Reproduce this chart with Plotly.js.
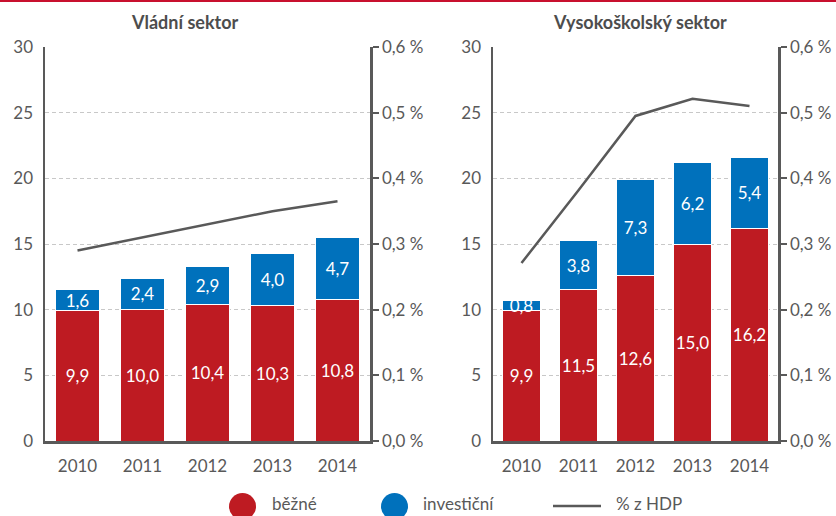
<!DOCTYPE html>
<html><head><meta charset="utf-8">
<script src="https://cdn.plot.ly/plotly-3.0.1.min.js"></script>
<style>html,body{margin:0;padding:0;background:#fff}#chart{width:836px;height:516px}</style>
</head><body><div id="chart"></div>
<script>
const years = ['2010','2011','2012','2013','2014'];
const vladniBezne = [9.9, 10.0, 10.4, 10.3, 10.8];
const vladniInvest = [1.6, 2.4, 2.9, 4.0, 4.7];
const vladniHDP = [0.29, 0.31, 0.33, 0.35, 0.365];
const vsBezne = [9.9, 11.5, 12.6, 15.0, 16.2];
const vsInvest = [0.8, 3.8, 7.3, 6.2, 5.4];
const vsHDP = [0.271, 0.382, 0.495, 0.521, 0.51];
const titles = ['Vládní sektor', 'Vysokoškolský sektor'];
const legendLabels = ['běžné', 'investiční', '% z HDP'];

const W = 836, H = 516;
const px = x => x / W, py = y => 1 - y / H;
const RED = '#BE1B22', BLUE = '#0071BC', GRAY = '#595959';
const FONT = 'Lato, "Open Sans", sans-serif';

function bar(y, color, xa, ya, name) {
  return {type:'bar', x: years, y: y, xaxis: xa, yaxis: ya, name: name, showlegend:false,
    marker:{color: color, line:{color:'#fff', width:1}},
    texttemplate:'%{y:.1f}', textposition:'inside', insidetextanchor:'middle', textangle:0,
    textfont:{color:'#fff', size:17, family: FONT}, hoverinfo:'skip'};
}
function line(y, xa, ya) {
  return {type:'scatter', mode:'lines', x: years, y: y, xaxis: xa, yaxis: ya, showlegend:false,
    line:{color: GRAY, width: 2.5}, hoverinfo:'skip'};
}
const data = [
  bar(vladniBezne, RED, 'x', 'y', legendLabels[0]),
  bar(vladniInvest, BLUE, 'x', 'y', legendLabels[1]),
  line(vladniHDP, 'x', 'y2'),
  bar(vsBezne, RED, 'x2', 'y3', legendLabels[0]),
  bar(vsInvest, BLUE, 'x2', 'y3', legendLabels[1]),
  line(vsHDP, 'x2', 'y4')
];
const ydom = [py(441), py(47)];
const xAx = dom => ({domain: dom, type:'category', showline:true, linecolor:GRAY, linewidth:2.5,
  ticks:'', showgrid:false, tickfont:{size:17, color:GRAY, family:FONT}, ticklabelstandoff:8, fixedrange:true});
const yAx = (anchor) => ({domain: ydom, anchor: anchor, range:[0,30], dtick:5, showline:true, linecolor:GRAY,
  linewidth:2.5, ticks:'', showgrid:true, gridcolor:'#c8c8c8', griddash:'4px,3px', gridwidth:1,
  zeroline:false, tickfont:{size:17, color:GRAY, family:FONT}, ticklabelstandoff:6});
const y2Ax = (ov, anchor) => ({overlaying: ov, anchor: anchor, side:'right', range:[0,0.6], dtick:0.1,
  tickformat:'.1f', ticksuffix:' %', showline:true, linecolor:GRAY, linewidth:2.5, ticks:'outside',
  ticklen:6, tickwidth:2, tickcolor:GRAY, showgrid:false, zeroline:false,
  tickfont:{size:17, color:GRAY, family:FONT}});

const shapes = [
  {type:'line', xref:'paper', yref:'paper', x0:0, x1:1, y0:py(1), y1:py(1), line:{color:'#C8102E', width:2}},
  {type:'circle', xref:'paper', yref:'paper', x0:px(229), x1:px(256), y0:py(493), y1:py(520), fillcolor:RED, line:{width:0}},
  {type:'circle', xref:'paper', yref:'paper', x0:px(381), x1:px(408), y0:py(493), y1:py(520), fillcolor:BLUE, line:{width:0}},
  {type:'line', xref:'paper', yref:'paper', x0:px(553), x1:px(601), y0:py(506), y1:py(506), line:{color:GRAY, width:2.5}}
];
const ann = (text, x, y, opts) => Object.assign({text:text, xref:'paper', yref:'paper', x:px(x), y:py(y),
  xanchor:'center', yanchor:'middle', showarrow:false, font:{size:17, color:GRAY, family:FONT}}, opts||{});
const annotations = [
  ann('<b>'+titles[0]+'</b>', 185, 22, {font:{size:18, color:'#4d4d4d', family:FONT}}),
  ann('<b>'+titles[1]+'</b>', 640, 22, {font:{size:18, color:'#4d4d4d', family:FONT}}),
  ann(legendLabels[0], 270, 503, {xanchor:'left'}),
  ann(legendLabels[1], 421, 503, {xanchor:'left'}),
  ann(legendLabels[2], 614, 503, {xanchor:'left'})
];
const layout = {
  width: W, height: H, margin:{l:0, r:0, t:0, b:0}, paper_bgcolor:'#fff', plot_bgcolor:'#fff',
  barmode:'stack', bargap:0.33, separators:',.', showlegend:false,
  uniformtext:{mode:'show', minsize:17},
  font:{family:FONT, color:GRAY},
  xaxis: xAx([px(45), px(370)]), yaxis: yAx('x'), yaxis2: y2Ax('y','x'),
  xaxis2: Object.assign(xAx([px(493), px(778)]), {anchor:'y3'}),
  yaxis3: yAx('x2'), yaxis4: y2Ax('y3','x2'),
  shapes: shapes, annotations: annotations
};
layout.xaxis.anchor = 'y';
Plotly.newPlot('chart', data, layout, {displayModeBar:false, staticPlot:true});
</script></body></html>
